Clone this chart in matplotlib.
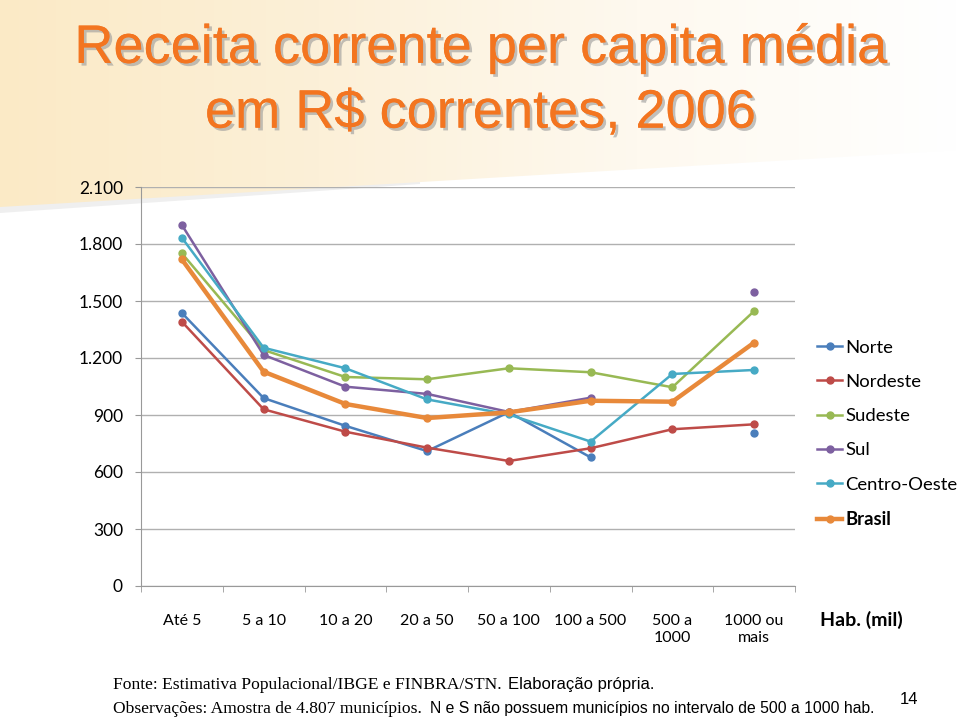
import numpy as np
import matplotlib
matplotlib.use("Agg")
import matplotlib.pyplot as plt
import matplotlib.patheffects as pe
from matplotlib.patches import Polygon

categorias = ["Até 5", "5 a 10", "10 a 20", "20 a 50", "50 a 100",
              "100 a 500", "500 a\n1000", "1000 ou\nmais"]

nan = np.nan
norte = [1437, 989, 843, 710, 915, 677, nan, 807]
nordeste = [1391, 930, 812, 728, 658, 725, 825, 851]
sudeste = [1751, 1242, 1100, 1088, 1146, 1125, 1046, 1447]
sul = [1900, 1216, 1049, 1011, 916, 991, nan, 1547]
centro_oeste = [1833, 1254, 1146, 982, 903, 760, 1116, 1137]
brasil = [1719, 1128, 958, 884, 914, 975, 970, 1281]

series = [
    ("Norte", norte, "#4A7EBB"),
    ("Nordeste", nordeste, "#BE4B48"),
    ("Sudeste", sudeste, "#98B954"),
    ("Sul", sul, "#7D60A0"),
    ("Centro-Oeste", centro_oeste, "#46AAC5"),
    ("Brasil", brasil, "#E8893A"),
]

yticks = [0, 300, 600, 900, 1200, 1500, 1800, 2100]

fig = plt.figure(figsize=(9.6, 7.17), dpi=100)

# fundo amarelado no topo (decoracao do slide)
bg = fig.add_axes([0, 0, 1, 1], zorder=-10)
bg.set_xlim(0, 960)
bg.set_ylim(717, 0)
bg.axis("off")
grad = np.linspace(0, 1, 256).reshape(1, -1)
cmap = matplotlib.colors.LinearSegmentedColormap.from_list(
    "bg", ["#FBEAC6", "#FCF0D8", "#FEF9EF", "#FFFFFF"])
# sombra fina sob a faixa (so do lado esquerdo)
sh = Polygon([(0, 200), (420, 178), (420, 184), (0, 213)], closed=True,
             facecolor="#EFEFEF", edgecolor="none", zorder=-1)
bg.add_patch(sh)
im = bg.imshow(grad, extent=[0, 960, 215, 0], aspect="auto", cmap=cmap,
               zorder=0)
clip = Polygon([(0, 0), (960, 0), (960, 150), (0, 207)], closed=True,
               transform=bg.transData, facecolor="none", edgecolor="none")
im.set_clip_path(clip)

ax = fig.add_axes([141 / 960, 1 - 586 / 717, 654 / 960, 399 / 717])
ax.patch.set_alpha(0)
x = np.arange(len(categorias))
for nome, vals, cor in series:
    lw = 3.2 if nome == "Brasil" else 1.8
    ax.plot(x, vals, color=cor, lw=lw, marker="o", markersize=5, label=nome)

ax.set_xlim(-0.5, 7.5)
ax.set_ylim(0, 2100)
ax.set_yticks(yticks)
ax.set_yticklabels([f"{v:,}".replace(",", ".") for v in yticks],
                   fontsize=12.5, family="Lato")
ax.grid(axis="y", color="#B0B0B0", lw=1)
ax.set_axisbelow(True)
ax.set_xticks(x)
ax.set_xticklabels(categorias, fontsize=11.5, family="Lato", linespacing=1.3)
ax.set_xticks(np.arange(-0.5, 8, 1), minor=True)
ax.tick_params(axis="x", which="major", length=0, pad=20)
ax.tick_params(axis="x", which="minor", length=4.5, color="#999999")
ax.tick_params(axis="y", length=4.5, color="#999999", pad=8.5)
for s in ["top", "right"]:
    ax.spines[s].set_visible(False)
ax.spines["left"].set_color("#999999")
ax.spines["bottom"].set_color("#999999")

leg = ax.legend(loc="upper left", bbox_to_anchor=(800 / 960, 1 - 323 / 717),
                bbox_transform=fig.transFigure, frameon=False,
                handlelength=1.4, handletextpad=0.15, labelspacing=0.99,
                prop={"family": "Lato", "size": 13.3})
for t in leg.get_texts():
    if t.get_text() == "Brasil":
        t.set_fontweight("bold")

fig.text(820 / 960, 1 - 620 / 717, "Hab. (mil)", fontsize=14, family="Lato",
         fontweight="bold", va="center")

titulo = "Receita corrente per capita média\nem R$ correntes, 2006"
fig.text(0.5, 1 - 81 / 717, titulo, ha="center", va="center",
         fontsize=39, color="#F37520", family="Liberation Sans",
         linespacing=1.38,
         path_effects=[pe.withSimplePatchShadow(offset=(2, -2),
                                                shadow_rgbFace="#999999",
                                                alpha=0.6),
                       pe.Normal()])

fig.text(113 / 960, 1 - 685 / 717,
         "Fonte: Estimativa Populacional/IBGE e FINBRA/STN.",
         fontsize=12.6, family="Liberation Serif", va="center")
fig.text(508 / 960, 1 - 685 / 717, "Elaboração própria.",
         fontsize=12, family="Liberation Sans", va="center")
fig.text(113 / 960, 1 - 709 / 717,
         "Observações: Amostra de 4.807 municípios.",
         fontsize=12.6, family="Liberation Serif", va="center")
fig.text(430 / 960, 1 - 709 / 717,
         "N e S não possuem municípios no intervalo de 500 a 1000 hab.",
         fontsize=11.3, family="Liberation Sans", va="center")
fig.text(900 / 960, 1 - 700 / 717, "14", fontsize=12,
         family="Liberation Sans", va="center")

fig.savefig("out.png", dpi=100)
